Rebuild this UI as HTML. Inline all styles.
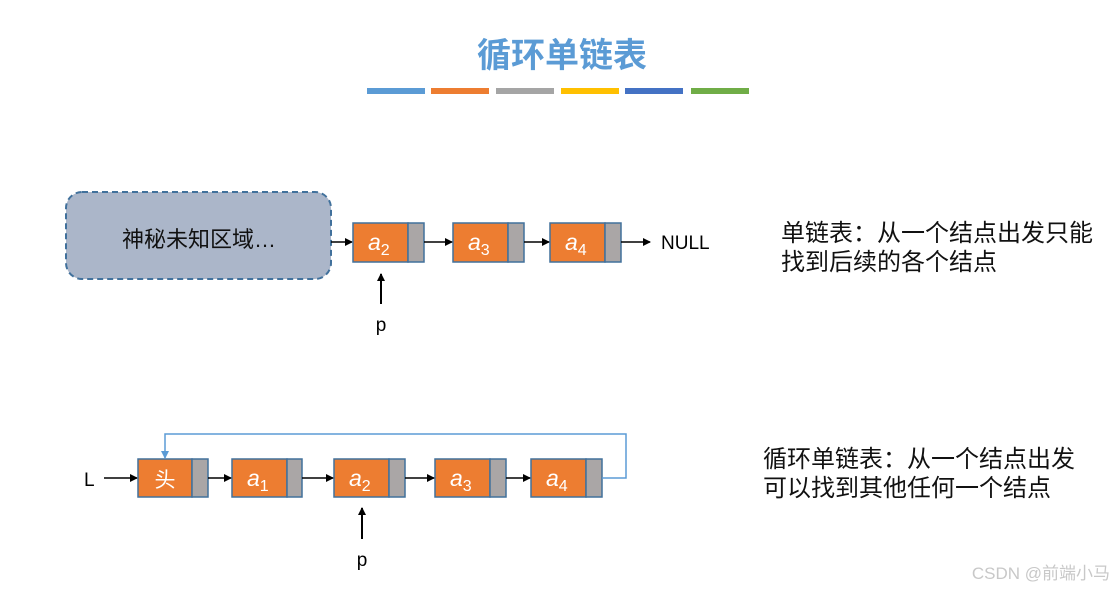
<!DOCTYPE html>
<html><head><meta charset="utf-8"><style>
html,body{margin:0;padding:0;background:#fff;}
svg{display:block;}
text{font-family:"Liberation Sans","Noto Sans CJK SC",sans-serif;}
</style></head><body>
<svg width="1116" height="592" viewBox="0 0 1116 592" xmlns="http://www.w3.org/2000/svg">
<defs>
<marker id="ar" markerWidth="8" markerHeight="8" refX="7" refY="4" orient="auto" markerUnits="userSpaceOnUse"><path d="M0,0 L8,4 L0,8 z" fill="#000"/></marker>
<marker id="ab" markerWidth="8" markerHeight="8" refX="7" refY="4" orient="auto" markerUnits="userSpaceOnUse"><path d="M0,0 L8,4 L0,8 z" fill="#5b9bd5"/></marker>
</defs>
<text x="562" y="67" text-anchor="middle" font-size="34" font-weight="bold" fill="#5b9bd5">循环单链表</text>
<g>
<rect x="367" y="88" width="58" height="6" fill="#5b9bd5"/>
<rect x="431" y="88" width="58" height="6" fill="#ed7d31"/>
<rect x="496" y="88" width="58" height="6" fill="#a5a5a5"/>
<rect x="561" y="88" width="58" height="6" fill="#ffc000"/>
<rect x="625" y="88" width="58" height="6" fill="#4472c4"/>
<rect x="691" y="88" width="58" height="6" fill="#70ad47"/>
</g>
<rect x="66" y="192" width="265" height="87" rx="16" fill="#abb6c9" stroke="#41719c" stroke-width="2" stroke-dasharray="6,4"/>
<text x="199" y="247" text-anchor="middle" font-size="22" fill="#111">神秘未知区域…</text>
<line x1="331" y1="242" x2="352" y2="242" stroke="#000" stroke-width="1.5" marker-end="url(#ar)"/>
<g stroke="#41719c" stroke-width="1.5">
<rect x="353" y="223" width="55" height="39" fill="#ed7d31"/><rect x="408" y="223" width="16" height="39" fill="#aaa6a6"/>
<rect x="453" y="223" width="55" height="39" fill="#ed7d31"/><rect x="508" y="223" width="16" height="39" fill="#aaa6a6"/>
<rect x="550" y="223" width="55" height="39" fill="#ed7d31"/><rect x="605" y="223" width="16" height="39" fill="#aaa6a6"/>
</g>
<g fill="#fff" font-size="23" font-style="italic">
<text x="368" y="250">a<tspan font-size="16" font-style="normal" dy="5">2</tspan></text>
<text x="468" y="250">a<tspan font-size="16" font-style="normal" dy="5">3</tspan></text>
<text x="565" y="250">a<tspan font-size="16" font-style="normal" dy="5">4</tspan></text>
</g>
<line x1="424" y1="242" x2="452" y2="242" stroke="#000" stroke-width="1.5" marker-end="url(#ar)"/>
<line x1="524" y1="242" x2="549" y2="242" stroke="#000" stroke-width="1.5" marker-end="url(#ar)"/>
<line x1="621" y1="242" x2="650" y2="242" stroke="#000" stroke-width="1.5" marker-end="url(#ar)"/>
<text x="661" y="249" font-size="19" fill="#000">NULL</text>
<line x1="381" y1="304" x2="381" y2="274" stroke="#000" stroke-width="2" marker-end="url(#ar)"/>
<text x="381" y="331" text-anchor="middle" font-size="19">p</text>
<text x="781" y="241" font-size="24" fill="#111">单链表：从一个结点出发只能</text>
<text x="781" y="270" font-size="24" fill="#111">找到后续的各个结点</text>
<text x="84" y="486" font-size="19">L</text>
<line x1="104" y1="478" x2="137" y2="478" stroke="#000" stroke-width="1.5" marker-end="url(#ar)"/>
<g stroke="#41719c" stroke-width="1.5">
<rect x="138" y="459" width="54" height="38" fill="#ed7d31"/><rect x="192" y="459" width="16" height="38" fill="#aaa6a6"/>
<rect x="232" y="459" width="55" height="38" fill="#ed7d31"/><rect x="287" y="459" width="15" height="38" fill="#aaa6a6"/>
<rect x="334" y="459" width="55" height="38" fill="#ed7d31"/><rect x="389" y="459" width="16" height="38" fill="#aaa6a6"/>
<rect x="435" y="459" width="55" height="38" fill="#ed7d31"/><rect x="490" y="459" width="16" height="38" fill="#aaa6a6"/>
<rect x="531" y="459" width="55" height="38" fill="#ed7d31"/><rect x="586" y="459" width="16" height="38" fill="#aaa6a6"/>
</g>
<text x="165" y="487" text-anchor="middle" font-size="21" fill="#fff">头</text>
<g fill="#fff" font-size="23" font-style="italic">
<text x="247" y="486">a<tspan font-size="16" font-style="normal" dy="5">1</tspan></text>
<text x="349" y="486">a<tspan font-size="16" font-style="normal" dy="5">2</tspan></text>
<text x="450" y="486">a<tspan font-size="16" font-style="normal" dy="5">3</tspan></text>
<text x="546" y="486">a<tspan font-size="16" font-style="normal" dy="5">4</tspan></text>
</g>
<line x1="208" y1="478" x2="231" y2="478" stroke="#000" stroke-width="1.5" marker-end="url(#ar)"/>
<line x1="302" y1="478" x2="333" y2="478" stroke="#000" stroke-width="1.5" marker-end="url(#ar)"/>
<line x1="405" y1="478" x2="434" y2="478" stroke="#000" stroke-width="1.5" marker-end="url(#ar)"/>
<line x1="506" y1="478" x2="530" y2="478" stroke="#000" stroke-width="1.5" marker-end="url(#ar)"/>
<polyline points="602,478 626,478 626,434 165,434 165,458" fill="none" stroke="#5b9bd5" stroke-width="1.5" marker-end="url(#ab)"/>
<line x1="362" y1="539" x2="362" y2="508" stroke="#000" stroke-width="2" marker-end="url(#ar)"/>
<text x="362" y="566" text-anchor="middle" font-size="19">p</text>
<text x="763" y="467" font-size="24" fill="#111">循环单链表：从一个结点出发</text>
<text x="763" y="496" font-size="24" fill="#111">可以找到其他任何一个结点</text>
<text x="1110" y="579" text-anchor="end" font-size="17" fill="#c8c8c8">CSDN @前端小马</text>
</svg>
</body></html>
